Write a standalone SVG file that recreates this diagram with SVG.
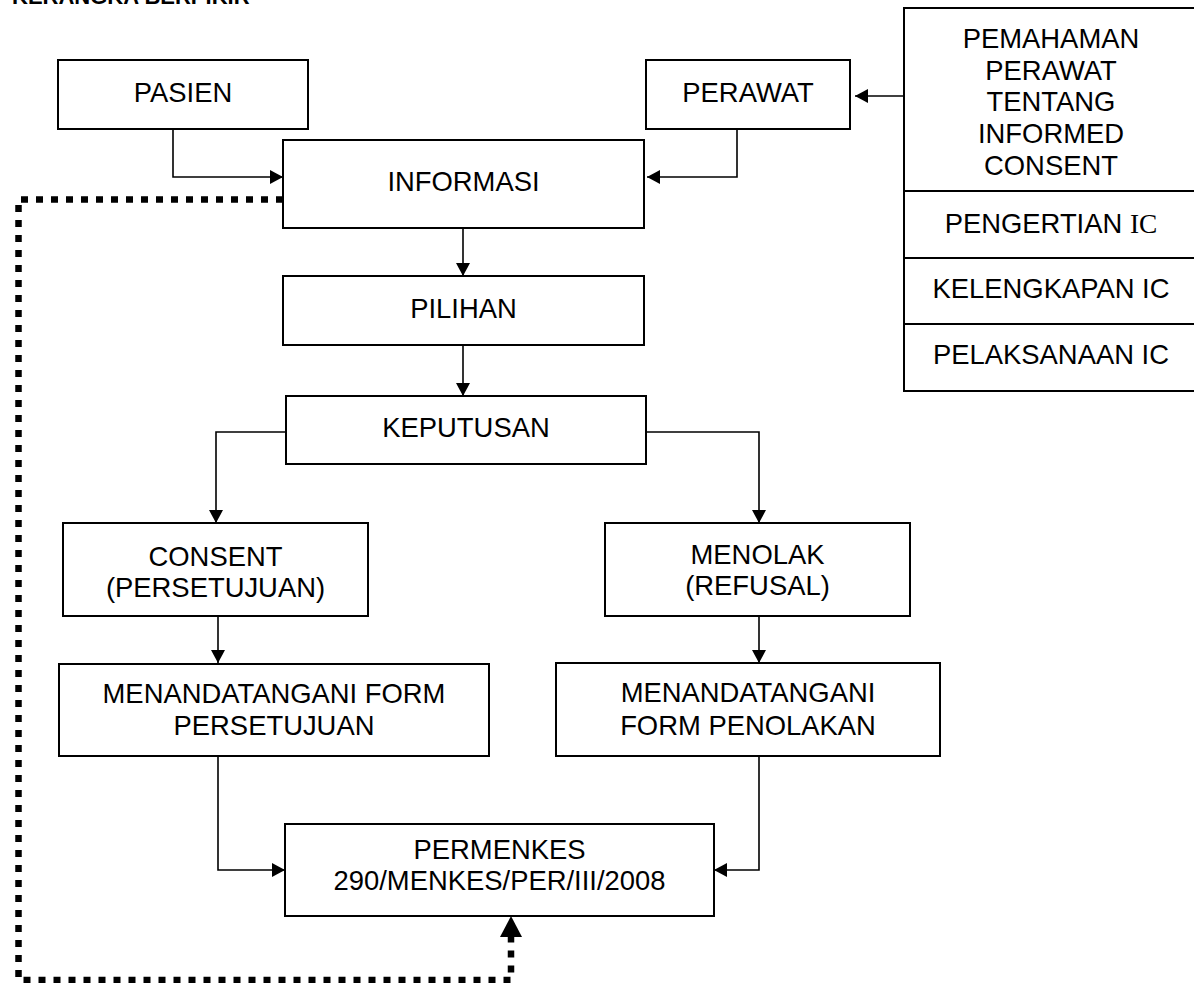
<svg xmlns="http://www.w3.org/2000/svg" width="1194" height="983" viewBox="0 0 1194 983">
<defs>
<style>
.box{fill:#fff;stroke:#000;stroke-width:2}
.t{font-family:"Liberation Sans",Arial,sans-serif;font-size:27.4px;fill:#000;text-anchor:middle}
.ser{font-family:"Liberation Serif","Times New Roman",serif}
.c{fill:none;stroke:#000;stroke-width:1.6}
.dot{fill:none;stroke:#000;stroke-width:6.5;stroke-dasharray:7 8}
</style>
<marker id="ah" markerUnits="userSpaceOnUse" markerWidth="14" markerHeight="14" refX="13" refY="7" orient="auto">
<path d="M0,0 L13,7 L0,14 z" fill="#000"/>
</marker>
<marker id="ahbig" markerUnits="userSpaceOnUse" markerWidth="22" markerHeight="22" refX="21" refY="11" orient="auto">
<path d="M0,0 L21,11 L0,22 z" fill="#000"/>
</marker>
</defs>
<rect width="1194" height="983" fill="#fff"/>
<text x="12" y="4" style="font-family:'Liberation Sans',Arial,sans-serif;font-size:22px;font-weight:bold">KERANGKA BERPIKIR</text>

<g id="connectors">
<path class="c" d="M173,129 V177 H283" marker-end="url(#ah)"/>
<path class="c" d="M737,129 V177 H647" marker-end="url(#ah)"/>
<path class="c" d="M904,96 H855" marker-end="url(#ah)"/>
<path class="c" d="M463,228 V276" marker-end="url(#ah)"/>
<path class="c" d="M463,345 V396" marker-end="url(#ah)"/>
<path class="c" d="M646,432 H759 V523" marker-end="url(#ah)"/>
<path class="c" d="M286,432 H216 V523" marker-end="url(#ah)"/>
<path class="c" d="M218,617 V663" marker-end="url(#ah)"/>
<path class="c" d="M759,616 V663" marker-end="url(#ah)"/>
<path class="c" d="M218,756 V870 H285" marker-end="url(#ah)"/>
<path class="c" d="M759,756 V870 H714" marker-end="url(#ah)"/>
<path class="dot" d="M283,199.5 H18.5 V980 H511 V936"/>
<path d="M511,938 V916" fill="none" stroke="none" marker-end="url(#ahbig)"/>
</g>

<g id="pasien">
<rect class="box" x="58" y="60" width="250" height="69"/>
<text class="t" x="183" y="102">PASIEN</text>
</g>
<g id="perawat">
<rect class="box" x="646" y="60" width="204" height="69"/>
<text class="t" x="748" y="102">PERAWAT</text>
</g>
<g id="informasi">
<rect class="box" x="283" y="140" width="361" height="88"/>
<text class="t" x="463.5" y="191">INFORMASI</text>
</g>
<g id="pilihan">
<rect class="box" x="283" y="276" width="361" height="69"/>
<text class="t" x="463.5" y="318">PILIHAN</text>
</g>
<g id="keputusan">
<rect class="box" x="286" y="396" width="360" height="68"/>
<text class="t" x="466" y="437">KEPUTUSAN</text>
</g>
<g id="consent">
<rect class="box" x="63" y="523" width="305" height="93"/>
<text class="t" x="215.5" y="566">CONSENT</text>
<text class="t" x="215.5" y="597">(PERSETUJUAN)</text>
</g>
<g id="menolak">
<rect class="box" x="605" y="523" width="305" height="93"/>
<text class="t" x="757.5" y="564">MENOLAK</text>
<text class="t" x="757.5" y="595">(REFUSAL)</text>
</g>
<g id="form-persetujuan">
<rect class="box" x="59" y="664" width="430" height="92"/>
<text class="t" x="274" y="703">MENANDATANGANI FORM</text>
<text class="t" x="274" y="735">PERSETUJUAN</text>
</g>
<g id="form-penolakan">
<rect class="box" x="556" y="663" width="384" height="93"/>
<text class="t" x="748" y="702">MENANDATANGANI</text>
<text class="t" x="748" y="735">FORM PENOLAKAN</text>
</g>
<g id="permenkes">
<rect class="box" x="285" y="824" width="429" height="92"/>
<text class="t" x="499.5" y="859">PERMENKES</text>
<text class="t" x="499.5" y="890">290/MENKES/PER/III/2008</text>
</g>
<g id="pemahaman">
<rect class="box" x="904" y="8" width="296" height="383"/>
<line x1="904" y1="191" x2="1200" y2="191" stroke="#000" stroke-width="2"/>
<line x1="904" y1="258" x2="1200" y2="258" stroke="#000" stroke-width="2"/>
<line x1="904" y1="324" x2="1200" y2="324" stroke="#000" stroke-width="2"/>
<text class="t" x="1051" y="48">PEMAHAMAN</text>
<text class="t" x="1051" y="80">PERAWAT</text>
<text class="t" x="1051" y="111">TENTANG</text>
<text class="t" x="1051" y="143">INFORMED</text>
<text class="t" x="1051" y="175">CONSENT</text>
<text class="t" x="1051" y="233">PENGERTIAN <tspan class="ser">IC</tspan></text>
<text class="t" x="1051" y="298">KELENGKAPAN IC</text>
<text class="t" x="1051" y="364">PELAKSANAAN IC</text>
</g>
</svg>
